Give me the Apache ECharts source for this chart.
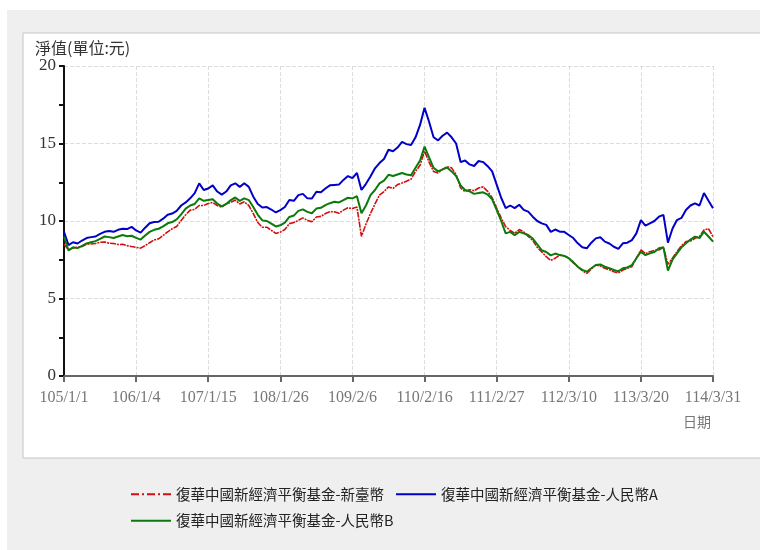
<!DOCTYPE html>
<html>
<head>
<meta charset="utf-8">
<script src="https://cdn.jsdelivr.net/npm/echarts@6/dist/echarts.min.js"></script>
<style>
  html, body { margin: 0; padding: 0; background: #fff; }
  #chart { width: 760px; height: 550px; }
</style>
</head>
<body>
<div id="chart"></div>
<script>
// 刻度日期（民國）
const tickLabels = ['105/1/1', '106/1/4', '107/1/15', '108/1/26', '109/2/6',
  '110/2/16', '111/2/27', '112/3/10', '113/3/20', '114/3/31']
const stepsPerTick = 16

const seriesNames = ['復華中國新經濟平衡基金-新臺幣', '復華中國新經濟平衡基金-人民幣A', '復華中國新經濟平衡基金-人民幣B']

// 淨值，每 1/16 刻度取一點（讀自原圖，每列一個刻度區間）
const twdNav = [
  8.5, 8.15, 8.26, 8.3, 8.35, 8.5, 8.52, 8.55, 8.63, 8.65, 8.57, 8.55, 8.48, 8.5, 8.41, 8.35,
  8.3, 8.25, 8.41, 8.6, 8.78, 8.85, 9.07, 9.3, 9.5, 9.65, 10.04, 10.4, 10.7, 10.75, 11.0, 11.0,
  11.13, 11.2, 11.0, 10.9, 11.1, 11.2, 11.35, 11.1, 11.24, 11.0, 10.48, 9.9, 9.6, 9.6, 9.4, 9.2,
  9.28, 9.45, 9.83, 9.9, 10.04, 10.2, 10.04, 9.95, 10.26, 10.3, 10.48, 10.6, 10.59, 10.5, 10.7, 10.85,
  10.8, 10.9, 9.0, 9.8, 10.48, 11.1, 11.67, 11.9, 12.2, 12.1, 12.35, 12.45, 12.57, 12.7, 13.2, 13.6,
  14.5, 13.8, 13.2, 13.1, 13.33, 13.5, 13.43, 13.0, 12.13, 11.9, 12.02, 11.95, 12.13, 12.2, 11.91, 11.5,
  10.83, 10.2, 9.63, 9.4, 9.2, 9.45, 9.3, 9.0, 8.76, 8.3, 8.0, 7.7, 7.46, 7.6, 7.8, 7.75,
  7.6, 7.3, 7.05, 6.8, 6.62, 6.9, 7.16, 7.1, 6.95, 6.85, 6.73, 6.65, 6.84, 6.95, 7.05, 7.6,
  8.13, 7.9, 8.02, 8.1, 8.13, 8.3, 7.2, 7.6, 8.02, 8.4, 8.67, 8.7, 8.88, 9.0, 9.42, 9.5,
  8.99]
const cnyANav = [
  9.3, 8.45, 8.63, 8.55, 8.74, 8.9, 8.96, 9.0, 9.17, 9.3, 9.35, 9.3, 9.43, 9.5, 9.48, 9.62,
  9.39, 9.25, 9.57, 9.85, 9.93, 9.95, 10.15, 10.4, 10.48, 10.65, 11.0, 11.2, 11.46, 11.8, 12.43, 12.0,
  12.1, 12.3, 11.9, 11.7, 11.9, 12.3, 12.43, 12.2, 12.43, 12.2, 11.57, 11.1, 10.87, 10.9, 10.74, 10.55,
  10.7, 10.9, 11.35, 11.3, 11.67, 11.75, 11.46, 11.45, 11.89, 11.85, 12.1, 12.3, 12.33, 12.35, 12.65, 12.9,
  12.76, 13.1, 12.0, 12.4, 12.87, 13.4, 13.74, 14.0, 14.6, 14.5, 14.74, 15.1, 14.96, 14.9, 15.4, 16.2,
  17.3, 16.4, 15.4, 15.2, 15.5, 15.7, 15.4, 15.0, 13.8, 13.9, 13.65, 13.55, 13.87, 13.8, 13.54, 13.2,
  12.35, 11.5, 10.83, 11.0, 10.83, 11.05, 10.72, 10.6, 10.28, 10.0, 9.85, 9.75, 9.3, 9.45, 9.31, 9.3,
  9.1, 8.9, 8.56, 8.3, 8.24, 8.6, 8.88, 8.95, 8.67, 8.55, 8.34, 8.2, 8.56, 8.6, 8.77, 9.2,
  10.06, 9.7, 9.85, 10.0, 10.28, 10.4, 8.6, 9.5, 10.06, 10.2, 10.71, 11.0, 11.14, 11.0, 11.8, 11.3,
  10.82]
const cnyBNav = [
  9.0, 8.1, 8.3, 8.25, 8.4, 8.55, 8.63, 8.7, 8.85, 9.0, 8.96, 8.9, 9.0, 9.1, 9.02, 9.05,
  8.91, 8.8, 9.07, 9.3, 9.43, 9.5, 9.65, 9.85, 9.93, 10.1, 10.43, 10.8, 11.0, 11.1, 11.46, 11.3,
  11.35, 11.4, 11.13, 10.95, 11.1, 11.35, 11.52, 11.3, 11.46, 11.35, 10.9, 10.4, 10.04, 10.0, 9.83, 9.65,
  9.72, 9.9, 10.26, 10.35, 10.65, 10.75, 10.59, 10.5, 10.8, 10.85, 11.02, 11.15, 11.24, 11.2, 11.35, 11.5,
  11.46, 11.6, 10.5, 11.0, 11.67, 12.0, 12.43, 12.6, 12.98, 12.9, 13.0, 13.1, 13.0, 12.95, 13.43, 13.9,
  14.8, 14.1, 13.43, 13.2, 13.33, 13.45, 13.2, 12.9, 12.3, 12.0, 11.91, 11.75, 11.8, 11.85, 11.7, 11.4,
  10.72, 10.0, 9.2, 9.3, 9.09, 9.3, 9.2, 9.1, 8.87, 8.5, 8.11, 8.0, 7.78, 7.9, 7.8, 7.75,
  7.6, 7.35, 7.05, 6.85, 6.73, 6.95, 7.16, 7.2, 7.05, 6.95, 6.84, 6.75, 6.95, 7.0, 7.16, 7.6,
  8.02, 7.8, 7.91, 8.0, 8.24, 8.3, 6.8, 7.5, 7.91, 8.3, 8.56, 8.8, 8.99, 8.9, 9.31, 9.0,
  8.67]

const toPoints = (arr) => arr.map((v, i) => [i, v])

const chart = echarts.init(document.getElementById('chart'))
const serif = "'Liberation Serif', 'Noto Sans CJK TC', serif"
const cjk = "'Noto Sans CJK TC', sans-serif"
const lineIcon = 'path://M0,4L40,4L40,6L0,6Z'
const dashDotIcon = 'path://M0,4L8,4L8,6L0,6ZM11,4L13,4L13,6L11,6ZM16,4L24,4L24,6L16,6ZM27,4L29,4L29,6L27,6ZM32,4L40,4L40,6L32,6Z'

const option = {
  backgroundColor: '#fff',
  animation: false,
  graphic: [
    { type: 'rect', z: -10, shape: { x: 7, y: 10, width: 753, height: 540 }, style: { fill: '#efefef' } },
    { type: 'rect', z: -9, shape: { x: 23, y: 33, width: 740, height: 425 }, style: { fill: '#fff', stroke: '#c4c4c4', lineWidth: 1 } },
    { type: 'text', left: 683, top: 415, style: { text: '日期', fill: '#777', font: "14px 'Noto Sans CJK TC'" } }
  ],
  grid: {
    left: 64,
    right: 47,
    top: 66,
    bottom: 174
  },
  legend: {
    left: 126,
    top: 482,
    width: 580,
    itemWidth: 40,
    itemHeight: 10,
    itemGap: 12,
    textStyle: { fontFamily: cjk, fontSize: 14.5, color: '#222' },
    data: [
      { name: seriesNames[0], icon: dashDotIcon },
      { name: seriesNames[1], icon: lineIcon },
      { name: seriesNames[2], icon: lineIcon }
    ]
  },
  xAxis: {
    type: 'value',
    min: 0,
    max: (tickLabels.length - 1) * stepsPerTick,
    interval: stepsPerTick,
    axisLine: { lineStyle: { color: '#666', width: 2 } },
    axisTick: { show: true, length: 6, lineStyle: { color: '#666', width: 2 } },
    axisLabel: {
      color: '#777',
      fontFamily: serif,
      fontSize: 16,
      margin: 14,
      showMaxLabel: true,
      formatter: (v) => tickLabels[Math.round(v / stepsPerTick)] || ''
    },
    splitLine: { show: true, lineStyle: { color: '#ddd', type: 'dashed' } }
  },
  yAxis: {
    type: 'value',
    min: 0,
    max: 20,
    interval: 5,
    name: '淨值(單位:元)',
    nameGap: 10,
    nameTextStyle: { fontFamily: cjk, fontSize: 16, color: '#333', align: 'left', padding: [0, 0, 0, -29] },
    axisLine: { show: true, lineStyle: { color: '#111', width: 2 } },
    axisTick: { show: true, length: 5, lineStyle: { color: '#111', width: 2 } },
    minorTick: { show: true, splitNumber: 2, length: 5, lineStyle: { color: '#111', width: 2 } },
    axisLabel: { color: '#333', fontFamily: serif, fontSize: 17, margin: 8 },
    splitLine: { show: true, lineStyle: { color: '#ddd', type: 'dashed' } }
  },
  series: [
    {
      name: seriesNames[0],
      type: 'line',
      symbol: 'none',
      color: '#d01010',
      lineStyle: { width: 1.6, color: '#d01010', type: [6, 1, 2, 1] },
      data: toPoints(twdNav)
    },
    {
      name: seriesNames[1],
      type: 'line',
      symbol: 'none',
      color: '#0000c8',
      lineStyle: { width: 2, color: '#0000c8' },
      data: toPoints(cnyANav)
    },
    {
      name: seriesNames[2],
      type: 'line',
      symbol: 'none',
      color: '#0a7a0a',
      lineStyle: { width: 2, color: '#0a7a0a' },
      data: toPoints(cnyBNav)
    }
  ]
}
chart.setOption(option)
</script>
</body>
</html>
